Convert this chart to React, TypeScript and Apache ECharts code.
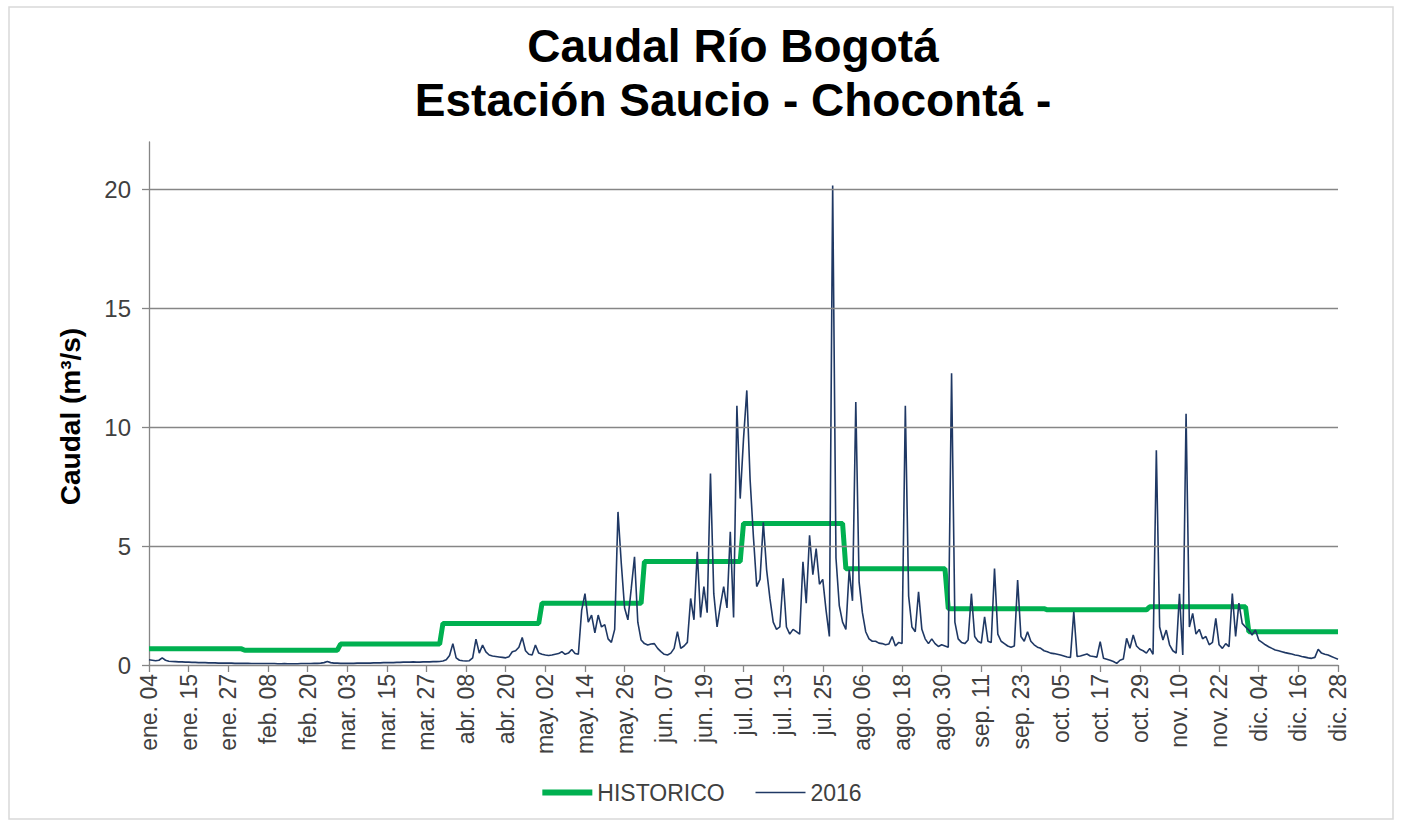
import React, { useEffect, useRef } from "react";
import * as echarts from "echarts";

// Tick labels shown every 12 days on the date axis (as printed in the reference)
const tickLabels = [
  "ene. 04", "ene. 15", "ene. 27", "feb. 08", "feb. 20", "mar. 03", "mar. 15", "mar. 27",
  "abr. 08", "abr. 20", "may. 02", "may. 14", "may. 26", "jun. 07", "jun. 19", "jul. 01",
  "jul. 13", "jul. 25", "ago. 06", "ago. 18", "ago. 30", "sep. 11", "sep. 23", "oct. 05",
  "oct. 17", "oct. 29", "nov. 10", "nov. 22", "dic. 04", "dic. 16", "dic. 28",
];

const yTicks = [0, 5, 10, 15, 20];

// Monthly historical mean flow (m3/s), ene..dic
const historicoMensual = [0.68, 0.62, 0.88, 1.75, 2.6, 4.35, 5.95, 4.05, 2.37, 2.32, 2.45, 1.4];

// Daily flow 2016 (m3/s), one row per 12-day tick interval
const caudal2016 = [
  0.22, 0.2, 0.18, 0.2, 0.3, 0.2, 0.16, 0.15, 0.14, 0.13, 0.13, 0.12,
  0.12, 0.11, 0.11, 0.1, 0.1, 0.1, 0.09, 0.09, 0.09, 0.08, 0.08, 0.08,
  0.08, 0.08, 0.07, 0.07, 0.07, 0.07, 0.07, 0.06, 0.06, 0.06, 0.06, 0.06,
  0.06, 0.06, 0.06, 0.05, 0.05, 0.06, 0.05, 0.05, 0.05, 0.05, 0.06, 0.06,
  0.06, 0.06, 0.07, 0.07, 0.08, 0.1, 0.15, 0.1, 0.08, 0.08, 0.07, 0.07,
  0.07, 0.07, 0.07, 0.08, 0.08, 0.08, 0.08, 0.08, 0.09, 0.09, 0.09, 0.1,
  0.1, 0.1, 0.1, 0.11, 0.11, 0.12, 0.12, 0.12, 0.13, 0.12, 0.12, 0.13,
  0.13, 0.13, 0.14, 0.14, 0.15, 0.17, 0.22, 0.4, 0.9, 0.3, 0.2, 0.18,
  0.17, 0.18, 0.3, 1.09, 0.5, 0.84, 0.55, 0.42, 0.38, 0.36, 0.34, 0.32,
  0.3, 0.35, 0.56, 0.6, 0.75, 1.16, 0.6, 0.45, 0.42, 0.84, 0.5, 0.45,
  0.42, 0.4, 0.42, 0.45, 0.48, 0.56, 0.45, 0.5, 0.65, 0.48, 0.45, 2.3,
  3.0, 1.8, 2.1, 1.35, 2.1, 1.6, 1.7, 1.1, 0.95, 1.5, 6.44, 4.27,
  2.4, 1.9, 3.2, 4.55, 1.8, 1.05, 0.9, 0.84, 0.88, 0.9, 0.7, 0.56,
  0.45, 0.42, 0.5, 0.7, 1.4, 0.7, 0.8, 0.95, 2.8, 1.9, 4.76, 2.0,
  3.3, 2.2, 8.05, 3.0, 1.6, 2.5, 3.3, 2.4, 5.6, 2.0, 10.9, 7.0,
  9.5, 11.55, 7.8, 5.4, 3.3, 3.6, 6.0, 4.0, 2.8, 1.8, 1.5, 1.6,
  3.65, 1.6, 1.3, 1.5, 1.4, 1.3, 4.34, 2.6, 5.46, 3.8, 4.9, 3.4,
  3.6, 2.3, 1.2, 20.17, 4.5, 2.5, 1.8, 1.5, 4.0, 2.7, 11.06, 3.5,
  2.2, 1.4, 1.1, 1.0, 1.0, 0.92, 0.9, 0.85, 0.88, 1.2, 0.8, 0.95,
  0.9, 10.9, 2.9, 1.6, 1.4, 3.08, 1.5, 1.1, 0.9, 1.1, 0.9, 0.78,
  0.85, 0.8, 0.75, 12.27, 1.8, 1.1, 0.95, 0.9, 1.05, 3.0, 1.2, 1.0,
  0.92, 2.03, 1.0, 0.95, 4.06, 1.3, 1.0, 0.9, 0.8, 0.75, 0.8, 3.57,
  1.2, 1.0, 1.4, 1.0, 0.85, 0.75, 0.7, 0.6, 0.56, 0.5, 0.48, 0.45,
  0.42, 0.38, 0.34, 0.32, 2.24, 0.36, 0.38, 0.42, 0.46, 0.38, 0.36, 0.33,
  0.98, 0.28, 0.24, 0.2, 0.15, 0.07, 0.2, 0.25, 1.12, 0.7, 1.26, 0.8,
  0.66, 0.6, 0.5, 0.7, 0.45, 9.03, 1.6, 1.05, 1.47, 0.85, 0.6, 0.5,
  3.0, 0.42, 10.57, 1.6, 2.17, 1.3, 1.5, 1.1, 1.2, 0.85, 0.95, 1.96,
  0.85, 0.7, 0.9, 0.77, 3.01, 1.2, 2.6, 1.75, 1.6, 1.47, 1.26, 1.47,
  1.05, 0.95, 0.85, 0.77, 0.7, 0.63, 0.6, 0.56, 0.52, 0.49, 0.46, 0.42,
  0.4, 0.36, 0.33, 0.3, 0.28, 0.32, 0.66, 0.5, 0.45, 0.42, 0.36, 0.3,
  0.24,
];

// Daily category dates 2016
const START_DATE = Date.UTC(2016, 0, 3);
const categories = caudal2016.map((_, i) =>
  new Date(START_DATE + i * 86400000).toISOString().slice(0, 10)
);
// Historical monthly value repeated on each day of its month
const historico = categories.map((d) => historicoMensual[Number(d.slice(5, 7)) - 1]);

const FONT = "Liberation Sans";
const AXIS_GRAY = "#868686";
const TEXT_GRAY = "#404040";
const GREEN = "#00B050";
const NAVY = "#1F3864";

export default function App() {
  const ref = useRef<HTMLDivElement>(null);

  useEffect(() => {
    if (!ref.current) return;
    const chart = echarts.init(ref.current, undefined, { renderer: "svg" });
    chart.setOption({
      animation: false,
      backgroundColor: "#ffffff",
      title: {
        text: "Caudal Río Bogotá\nEstación Saucio - Chocontá -",
        left: 728,
        top: 14,
        textAlign: "center",
        textStyle: {
          fontFamily: FONT,
          fontSize: 46,
          fontWeight: "bold",
          color: "#000000",
          lineHeight: 54,
        },
      },
      legend: {
        left: "center",
        top: 776,
        itemWidth: 50,
        itemHeight: 14,
        itemGap: 30,
        data: [
          { name: "HISTORICO", lineStyle: { width: 6, color: GREEN } },
          { name: "2016", lineStyle: { width: 1.6, color: NAVY } },
        ],
        itemStyle: { opacity: 0 },
        textStyle: { fontFamily: FONT, fontSize: 23, color: TEXT_GRAY },
      },
      grid: { left: 149, right: 63, top: 142, bottom: 162 },
      xAxis: {
        type: "category",
        data: categories,
        boundaryGap: false,
        axisLine: { lineStyle: { color: AXIS_GRAY, width: 1.3 } },
        axisTick: { interval: 11, length: 7, lineStyle: { color: AXIS_GRAY, width: 1.3 } },
        axisLabel: {
          interval: 11,
          rotate: 90,
          margin: 9,
          fontFamily: FONT,
          fontSize: 23,
          color: TEXT_GRAY,
          formatter: (_v: string, i: number) => tickLabels[i / 12] ?? "",
        },
        splitLine: { show: false },
      },
      yAxis: {
        type: "value",
        min: 0,
        max: 22,
        interval: 5,
        name: "Caudal (m³/s)",
        nameLocation: "middle",
        nameGap: 65,
        nameTextStyle: {
          fontFamily: FONT,
          fontSize: 28,
          fontWeight: "bold",
          color: "#000000",
          padding: [0, 26, 0, 0],
        },
        axisLine: { show: true, lineStyle: { color: AXIS_GRAY, width: 1.3 } },
        axisTick: {
          show: true,
          length: 7,
          customValues: yTicks,
          lineStyle: { color: AXIS_GRAY, width: 1.3 },
        },
        axisLabel: {
          customValues: yTicks,
          margin: 18,
          fontFamily: FONT,
          fontSize: 24,
          color: TEXT_GRAY,
        },
        splitLine: { show: false },
      },
      series: [
        {
          name: "HISTORICO",
          type: "line",
          data: historico,
          symbol: "none",
          z: 2,
          lineStyle: { color: GREEN, width: 5 },
          itemStyle: { color: GREEN },
          markLine: {
            silent: true,
            symbol: ["none", "none"],
            label: { show: false },
            emphasis: { disabled: true },
            lineStyle: { color: AXIS_GRAY, width: 1.3, type: "solid" },
            data: yTicks.filter((v) => v > 0).map((v) => ({ yAxis: v })),
          },
        },
        {
          name: "2016",
          type: "line",
          data: caudal2016,
          symbol: "none",
          z: 3,
          lineStyle: { color: NAVY, width: 1.6 },
          itemStyle: { color: NAVY },
        },
      ],
      graphic: [
        {
          type: "rect",
          silent: true,
          shape: { x: 9, y: 7, width: 1384, height: 812 },
          style: { fill: "none", stroke: "#d9d9d9", lineWidth: 1.5 },
        },
      ],
    });
    return () => chart.dispose();
  }, []);

  return (
    <div
      ref={ref}
      style={{ position: "fixed", left: 0, top: 0, width: 1401, height: 827 }}
    />
  );
}
